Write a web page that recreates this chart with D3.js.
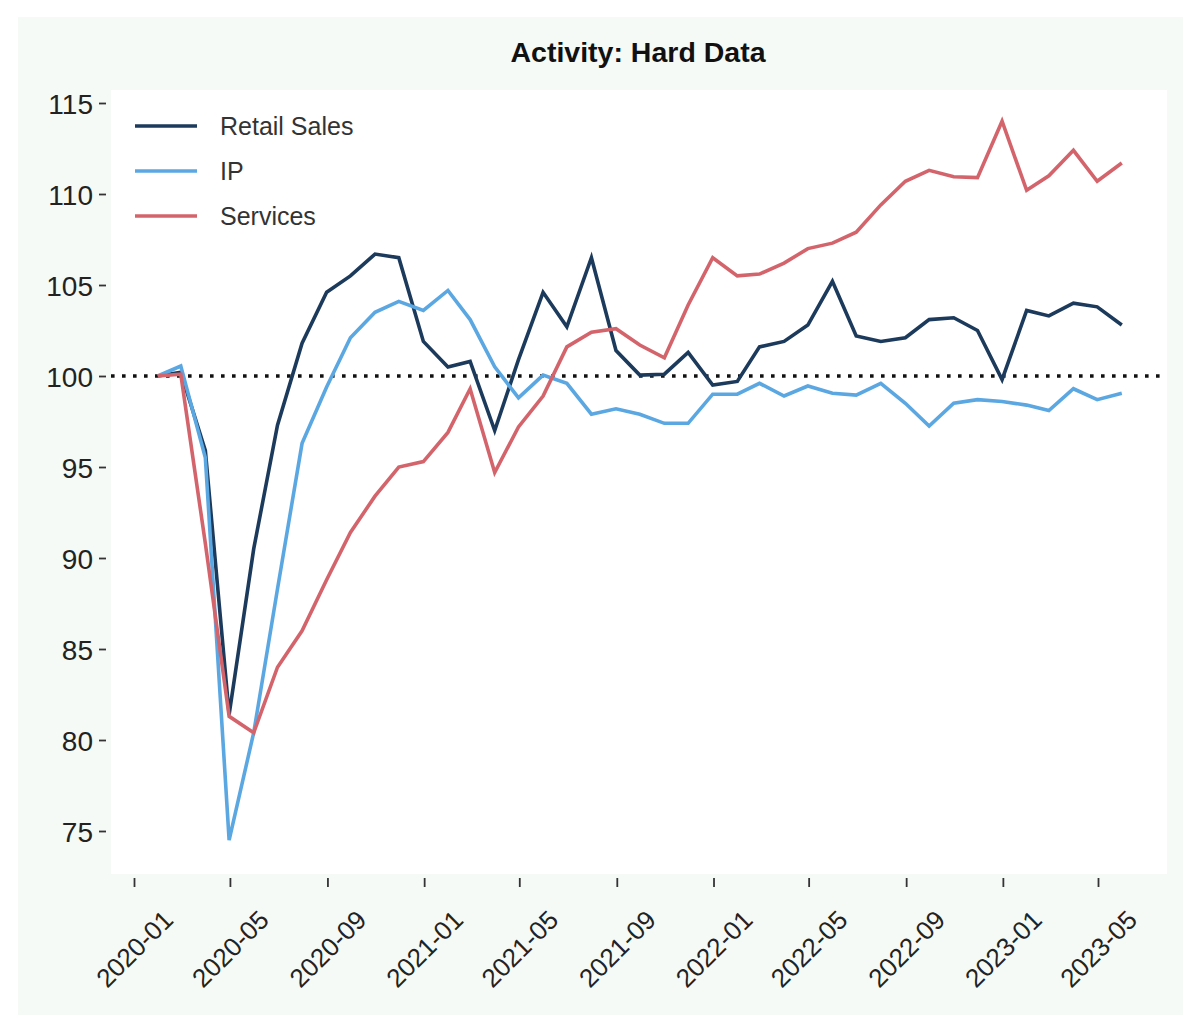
<!DOCTYPE html>
<html>
<head>
<meta charset="utf-8">
<title>Activity: Hard Data</title>
<script src="https://cdn.jsdelivr.net/npm/d3@7"></script>
<style>
  html, body { margin: 0; padding: 0; background: #ffffff; }
  svg { display: block; }
  text { font-family: "Liberation Sans", Arial, Helvetica, sans-serif; fill: #222; }
</style>
</head>
<body>
<svg id="chart" width="1200" height="1030"></svg>
<script>
// month index (values are plotted at month end, like the source chart)
const months = [
  '2020-01', '2020-02', '2020-03', '2020-04', '2020-05', '2020-06', '2020-07', '2020-08', '2020-09', '2020-10', '2020-11', '2020-12',
  '2021-01', '2021-02', '2021-03', '2021-04', '2021-05', '2021-06', '2021-07', '2021-08', '2021-09', '2021-10', '2021-11', '2021-12',
  '2022-01', '2022-02', '2022-03', '2022-04', '2022-05', '2022-06', '2022-07', '2022-08', '2022-09', '2022-10', '2022-11', '2022-12',
  '2023-01', '2023-02', '2023-03', '2023-04', '2023-05'
];

const retailSales = [
  100, 100.2, 95.9, 81.4, 90.5, 97.3, 101.8, 104.6, 105.5, 106.7, 106.5, 101.9,
  100.5, 100.8, 97.0, 100.9, 104.6, 102.7, 106.5, 101.4, 100.05, 100.1, 101.3, 99.5,
  99.7, 101.6, 101.9, 102.8, 105.2, 102.2, 101.9, 102.1, 103.1, 103.2, 102.5, 99.8,
  103.6, 103.3, 104.0, 103.8, 102.8
];

const ip = [
  100, 100.55, 95.5, 74.5, 80.4, 88.3, 96.3, 99.4, 102.1, 103.5, 104.1, 103.6,
  104.7, 103.1, 100.5, 98.8, 100.05, 99.6, 97.9, 98.2, 97.9, 97.4, 97.4, 99.0,
  99.0, 99.6, 98.9, 99.45, 99.05, 98.95, 99.6, 98.5, 97.25, 98.5, 98.7, 98.6,
  98.4, 98.1, 99.3, 98.7, 99.05
];

const services = [
  100, 100.1, 90.8, 81.3, 80.4, 84.0, 86.0, 88.8, 91.4, 93.4, 95.0, 95.3,
  96.9, 99.3, 94.7, 97.2, 98.9, 101.6, 102.4, 102.6, 101.7, 101.0, 103.9, 106.5,
  105.5, 105.6, 106.2, 107.0, 107.3, 107.9, 109.4, 110.7, 111.3, 110.95, 110.9, 114.0,
  110.2, 111.0, 112.4, 110.7, 111.7
];

const seriesNames = ['Retail Sales', 'IP', 'Services'];
const seriesColors = ['#1c3a5b', '#5ba7e2', '#d4646b'];

const xTickLabels = ['2020-01', '2020-05', '2020-09', '2021-01', '2021-05', '2021-09',
  '2022-01', '2022-05', '2022-09', '2023-01', '2023-05'];
const yTicks = [75, 80, 85, 90, 95, 100, 105, 110, 115];
const baseline = 100;

const parseMonth = d3.timeParse('%Y-%m');
// end of month for each observation
const dates = months.map(m => new Date(d3.timeMonth.offset(parseMonth(m), 1) - 864e5));

const svg = d3.select('#chart');

// outer panel + plot area
svg.append('rect')
  .attr('x', 18).attr('y', 17)
  .attr('width', 1165).attr('height', 998)
  .attr('fill', '#f5faf7');

const plot = { left: 111, top: 90, right: 1167, bottom: 874 };

svg.append('rect')
  .attr('x', plot.left).attr('y', plot.top)
  .attr('width', plot.right - plot.left).attr('height', plot.bottom - plot.top)
  .attr('fill', '#ffffff');

const x = d3.scaleTime()
  .domain([parseMonth('2020-01'), parseMonth('2023-05')])
  .range([134, 1098]);

const y = d3.scaleLinear()
  .domain([75, 115])
  .range([831, 103]);

// title
svg.append('text')
  .attr('x', 638).attr('y', 62)
  .attr('text-anchor', 'middle')
  .style('font-size', '28.5px')
  .style('font-weight', 'bold')
  .style('fill', '#111')
  .text('Activity: Hard Data');

// y axis (no spine, short ticks, offset to the left of the plot)
const yAxis = d3.axisLeft(y)
  .tickValues(yTicks)
  .tickSize(7)
  .tickPadding(6)
  .tickFormat(d3.format('d'));

const yg = svg.append('g')
  .attr('transform', 'translate(106,0)')
  .call(yAxis);
yg.select('.domain').remove();
yg.selectAll('.tick line').attr('stroke', '#333').attr('stroke-width', 1.8);
yg.selectAll('.tick text')
  .style('font-size', '28px')
  .style('fill', '#222')
  .attr('dy', '0.36em');

// x axis
const xAxis = d3.axisBottom(x)
  .tickValues(xTickLabels.map(parseMonth))
  .tickSize(9)
  .tickFormat(d3.timeFormat('%Y-%m'));

const xg = svg.append('g')
  .attr('transform', 'translate(0,878)')
  .call(xAxis);
xg.select('.domain').remove();
xg.selectAll('.tick line').attr('stroke', '#333').attr('stroke-width', 1.8);
xg.selectAll('.tick text')
  .style('font-size', '26px')
  .style('fill', '#222')
  .attr('text-anchor', 'middle')
  .attr('dominant-baseline', 'central')
  .attr('x', 0).attr('y', 0).attr('dy', null)
  .attr('transform', 'translate(0,71) rotate(-45)');

// dotted reference line at 100
svg.append('line')
  .attr('x1', plot.left).attr('x2', plot.right - 4)
  .attr('y1', y(baseline)).attr('y2', y(baseline))
  .attr('stroke', '#111')
  .attr('stroke-width', 3.6)
  .attr('stroke-dasharray', '3.6,7.4');

// series lines
const allSeries = [retailSales, ip, services];
const line = d3.line()
  .x((d, i) => x(dates[i]))
  .y(d => y(d));

allSeries.forEach((vals, k) => {
  svg.append('path')
    .datum(vals)
    .attr('fill', 'none')
    .attr('stroke', seriesColors[k])
    .attr('stroke-width', 3.6)
    .attr('stroke-linejoin', 'miter')
    .attr('d', line);
});

// legend
const legend = svg.append('g').attr('transform', 'translate(135,126)');
seriesNames.forEach((name, k) => {
  const g = legend.append('g').attr('transform', `translate(0,${k * 45})`);
  g.append('line')
    .attr('x1', 0).attr('x2', 62)
    .attr('y1', 0).attr('y2', 0)
    .attr('stroke', seriesColors[k])
    .attr('stroke-width', 3.6);
  g.append('text')
    .attr('x', 85).attr('y', 0)
    .attr('dy', '0.35em')
    .style('font-size', '25px')
    .style('fill', '#333')
    .text(name);
});
</script>
</body>
</html>
